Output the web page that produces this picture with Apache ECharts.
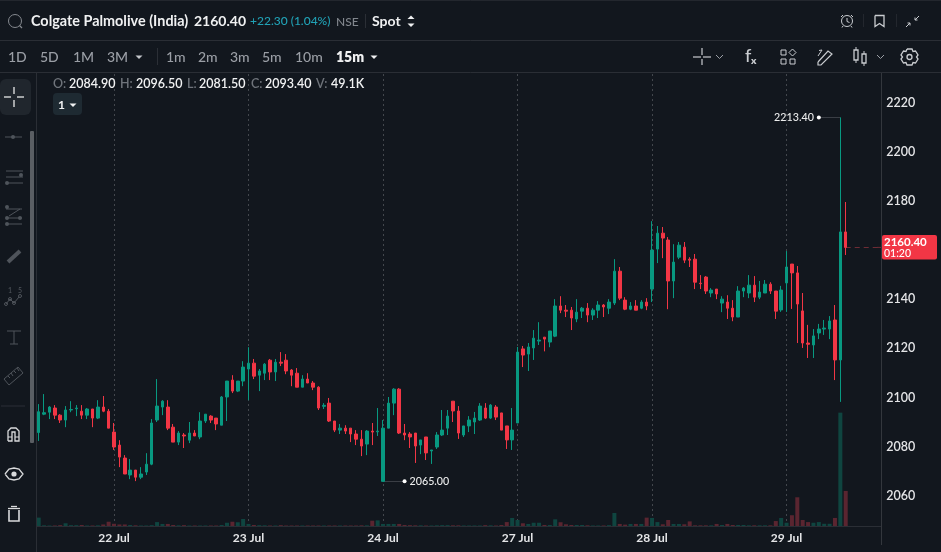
<!DOCTYPE html>
<html><head><meta charset="utf-8">
<style>html,body{margin:0;padding:0;background:#12171e;overflow:hidden}#c{width:941px;height:552px}</style>
<script src="https://cdn.jsdelivr.net/npm/echarts@6/dist/echarts.min.js"></script>
</head><body><div id="c"></div>
<script>
const opens=[2084.9,2092.4,2093.2,2094.9,2092.0,2090.0,2094.1,2094.6,2093.6,2092.0,2094.5,2090.8,2095.3,2093.6,2085.1,2079.8,2074.5,2067.6,2069.6,2066.7,2068.8,2072.0,2090.0,2095.3,2095.3,2087.1,2081.0,2083.9,2081.8,2084.7,2083.1,2089.6,2091.6,2090.8,2087.9,2099.4,2106.3,2101.8,2105.9,2110.8,2113.2,2108.3,2109.1,2114.4,2109.6,2113.6,2114.4,2110.4,2109.1,2103.4,2106.7,2105.1,2103.4,2095.6,2096.9,2089.6,2085.9,2086.7,2086.7,2084.3,2082.2,2080.2,2085.5,2085.2,2065.0,2086.7,2096.9,2102.6,2084.7,2084.3,2084.7,2079.8,2083.1,2077.4,2079.0,2083.9,2086.7,2097.7,2093.7,2083.9,2087.6,2089.2,2090.0,2094.9,2090.8,2095.3,2092.9,2087.6,2081.9,2088.8,2119.0,2116.9,2119.4,2122.2,2123.8,2121.8,2124.2,2136.5,2134.8,2134.8,2131.2,2134.4,2135.6,2132.8,2134.8,2136.9,2135.6,2137.7,2150.7,2138.9,2135.2,2136.5,2135.6,2138.1,2143.4,2159.7,2166.2,2163.4,2146.7,2156.4,2160.5,2155.6,2155.6,2145.8,2148.3,2141.8,2143.4,2137.7,2138.1,2135.6,2132.0,2142.6,2141.8,2145.0,2140.1,2141.8,2145.4,2142.6,2134.9,2145.9,2153.6,2150.0,2134.5,2121.4,2120.6,2125.5,2127.1,2127.1,2130.8,2114.5,2166.7];
const closes=[2093.4,2093.0,2095.3,2092.0,2090.0,2094.1,2094.3,2094.9,2092.0,2094.5,2090.8,2095.3,2093.6,2086.7,2079.0,2074.9,2068.0,2069.6,2066.7,2068.0,2072.0,2088.8,2095.7,2097.7,2086.7,2081.0,2084.7,2083.5,2084.7,2083.5,2089.6,2092.4,2090.0,2088.4,2099.4,2105.9,2101.8,2105.9,2111.6,2113.2,2107.9,2110.0,2112.8,2109.6,2113.6,2113.2,2110.0,2108.3,2103.4,2106.7,2105.1,2103.4,2094.9,2096.0,2089.6,2085.9,2086.7,2085.5,2084.3,2082.2,2079.4,2085.5,2085.1,2085.5,2086.7,2096.9,2102.6,2084.7,2083.9,2083.1,2079.4,2081.9,2076.6,2077.8,2083.9,2085.9,2091.6,2093.7,2084.7,2087.6,2090.0,2090.8,2095.7,2090.8,2096.1,2091.2,2085.9,2081.9,2085.9,2117.7,2116.5,2119.8,2123.4,2122.6,2123.0,2126.3,2136.5,2134.8,2134.4,2131.6,2134.0,2135.6,2132.8,2134.8,2136.9,2136.1,2138.1,2150.7,2139.7,2135.2,2136.5,2134.8,2138.1,2136.5,2159.3,2166.2,2164.2,2146.7,2154.4,2161.3,2155.2,2155.2,2146.2,2145.6,2142.6,2143.0,2141.4,2139.3,2135.6,2132.0,2142.6,2143.8,2145.0,2140.1,2142.2,2145.4,2142.6,2134.4,2143.0,2152.4,2150.0,2137.3,2121.4,2120.9,2124.3,2127.1,2127.5,2130.4,2114.5,2166.7,2160.4];
const lows=[2081.5,2092.0,2090.4,2090.4,2088.8,2087.1,2093.2,2091.6,2090.4,2090.4,2087.1,2090.4,2093.2,2086.7,2077.8,2070.8,2068.0,2065.9,2065.1,2065.9,2067.6,2071.6,2089.2,2092.0,2085.9,2081.0,2079.8,2078.6,2080.6,2083.5,2082.2,2088.8,2088.8,2085.9,2087.9,2089.6,2101.0,2101.4,2103.8,2098.1,2106.7,2101.8,2106.3,2106.3,2105.9,2112.0,2108.7,2103.8,2103.4,2103.4,2105.1,2102.2,2094.1,2094.5,2089.2,2085.1,2084.3,2084.3,2081.0,2079.8,2075.3,2075.7,2079.8,2083.5,2065.0,2086.7,2092.0,2084.3,2081.8,2078.6,2072.5,2076.1,2073.7,2072.1,2078.2,2083.5,2083.9,2089.2,2082.3,2083.1,2085.1,2084.3,2089.6,2090.4,2090.4,2090.0,2085.9,2078.2,2077.8,2088.8,2111.6,2110.0,2114.5,2120.6,2118.0,2119.7,2123.8,2133.6,2132.0,2126.7,2129.9,2131.6,2129.9,2130.8,2131.6,2132.0,2133.2,2136.9,2138.9,2134.8,2134.8,2134.8,2135.2,2134.8,2138.1,2154.0,2156.0,2135.2,2139.7,2155.6,2154.0,2152.4,2143.4,2143.4,2141.4,2140.1,2139.3,2134.0,2131.2,2130.3,2132.0,2140.1,2139.7,2138.1,2139.3,2141.8,2141.4,2131.2,2134.1,2134.1,2135.3,2121.4,2119.4,2115.3,2115.3,2123.0,2124.7,2123.0,2106.3,2097.4,2157.3];
const highs=[2096.5,2100.6,2095.7,2096.1,2092.4,2095.7,2097.7,2096.1,2096.1,2094.9,2094.5,2098.1,2099.8,2094.5,2088.8,2081.8,2075.7,2074.1,2069.6,2070.8,2076.5,2090.4,2106.7,2098.1,2098.1,2088.4,2085.5,2084.7,2089.2,2085.9,2093.2,2092.4,2092.0,2090.8,2099.8,2105.9,2108.3,2105.9,2114.0,2119.7,2114.9,2110.8,2113.2,2114.9,2114.9,2117.7,2116.9,2110.8,2111.2,2108.3,2109.1,2105.9,2103.8,2096.9,2099.0,2089.6,2088.4,2087.9,2086.7,2085.9,2085.9,2085.9,2088.8,2094.9,2090.0,2099.4,2103.0,2103.0,2088.4,2085.1,2084.7,2081.9,2083.1,2077.8,2085.1,2094.1,2094.1,2097.7,2095.7,2087.6,2091.6,2093.3,2096.9,2096.9,2096.5,2096.1,2092.9,2087.6,2094.9,2119.8,2120.2,2121.4,2126.7,2129.9,2123.8,2126.3,2139.3,2140.5,2136.9,2136.1,2139.3,2136.1,2137.7,2135.6,2138.5,2137.3,2139.3,2155.6,2152.4,2140.1,2138.1,2138.9,2138.9,2139.7,2171.1,2169.1,2168.7,2164.6,2161.7,2162.6,2162.6,2156.4,2157.7,2149.1,2148.7,2143.8,2143.4,2140.5,2140.9,2138.9,2144.6,2144.2,2149.1,2148.7,2146.7,2147.1,2146.2,2142.6,2144.7,2158.9,2153.6,2152.8,2141.8,2128.8,2127.1,2129.2,2130.8,2132.4,2136.9,2213.4,2178.9];
const volumes=[49.1,4,3,3,5,16,5,5,6,3,3,4,9,25,13,9,9,6,4,3,3,5,23,12,12,6,4,5,3,3,3,3,3,3,6,19,25,22,41,12,6,5,4,3,3,5,3,3,3,3,3,3,3,3,3,3,3,3,3,3,4,4,31,33,12,12,12,12,6,5,4,4,3,3,4,5,5,4,4,3,3,3,3,5,4,3,6,23,47,35,16,12,19,19,6,6,39,22,10,6,6,6,4,3,3,3,5,76,12,8,12,12,12,49,47,23,10,35,12,12,10,27,4,4,4,4,12,6,12,6,6,6,4,4,4,4,4,29,47,19,63,168,35,23,19,23,13,13,47,663,205];
const dayLabels=['22 Jul','23 Jul','24 Jul','27 Jul','28 Jul','29 Jul'];
const dayIndexes=[14,39,64,89,114,139];
const priceTicks=[2060,2080,2100,2120,2140,2180,2200,2220];
const lastPrice=2160.40, highMark=2213.40, lowMark=2065.00;
const EMPTY_BARS=6;

const UP='#089981',DOWN='#f23645',UPV='#0f4540',DOWNV='#5a2530';
const FONT='Lato';
const categories=[];
for(let i=0;i<opens.length+EMPTY_BARS;i++){const k=dayIndexes.indexOf(i);categories.push(k>=0?dayLabels[k]:'');}
const candles=opens.map((o,i)=>[o,closes[i],lows[i],highs[i]]);
const vols=volumes.map((v,i)=>({value:v,itemStyle:{color:closes[i]>=opens[i]?UPV:DOWNV}}));

const g=[];
const LINE='#2a2e35',ICON='#c9ccd0',DIM='#5b6067',TXT='#f0f1f2',GR='#9a9ea5',LG='#6f747b';
const silent={silent:true,z:50};
function L(x1,y1,x2,y2,c,w){g.push({type:'line',...silent,shape:{x1,y1,x2,y2},style:{stroke:c||ICON,lineWidth:w||1}});}
function C(cx,cy,r,c,fill,w){g.push({type:'circle',...silent,shape:{cx,cy,r},style:{stroke:fill?null:(c||ICON),fill:fill?c:null,lineWidth:w||1}});}
function R(x,y,w,h,c,r,stroke,lw){g.push({type:'rect',...silent,shape:{x,y,width:w,height:h,r:r||0},style:stroke?{stroke:c,fill:null,lineWidth:lw||1}:{fill:c}});}
function P(pts,c,w){g.push({type:'polyline',...silent,shape:{points:pts},style:{stroke:c||ICON,fill:null,lineWidth:w||1}});}
function F(pts,c){g.push({type:'polygon',...silent,shape:{points:pts},style:{fill:c||ICON}});}
function T(x,y,s,size,c,weight,align){g.push({type:'text',...silent,x,y,style:{text:s,font:(weight||500)+' '+size+'px '+FONT,fill:c||TXT,verticalAlign:'middle',align:align||'left'}});}
function caret(x,y,c){F([[x-3.5,y-1.5],[x+3.5,y-1.5],[x,y+2]],c||TXT);}

// panels
R(0,0,941,73,'#12171e');
R(0,526,36,26,'#12171e');
L(0,0.5,941,0.5,'#23272e');
L(0,40.5,941,40.5,LINE);
L(0,72.5,941,72.5,LINE);
L(36.5,73,36.5,552,LINE);
L(881.5,73,881.5,545,'#33373d');

// header
C(15,21,6.5,'#85898f');L(19.5,25.5,22,28,'#85898f',1.2);
T(31,21,'Colgate Palmolive (India)',14.4,TXT,700);
T(194,21,'2160.40',14,TXT,700);
T(250,21.5,'+22.30 (1.04%)',12,'#21a1b5',500);
T(336,22,'NSE',12,'#81868d',500);
L(365.5,14,365.5,28,'#2b2f36');
T(372,21,'Spot',14,TXT,700);
F([[411,15.5],[414.5,19],[407.5,19]],TXT);F([[411,27],[414.5,23.5],[407.5,23.5]],TXT);
// alarm
C(847,21,5.5,ICON);L(847,18,847,21.5,ICON);L(847,21.5,849.5,22.5,ICON);L(841,17,843,15,ICON);L(851,15,853,17,ICON);L(843,26,842,27.5,ICON);L(851,26,852,27.5,ICON);
L(863.5,14,863.5,27,'#23272e');
P([[875,15.5],[884,15.5],[884,26.5],[879.5,23.5],[875,26.5],[875,15.5]],ICON,1.3);
L(896.5,14,896.5,27,'#23272e');
L(915,20,919,16,ICON);P([[915,17.5],[915,20],[917.5,20]],ICON);L(906,27,910,23,ICON);P([[907.5,23],[910,23],[910,25.5]],ICON);

// period row
[['1D',8],['5D',40],['1M',73],['3M',107]].forEach(a=>T(a[1],57.5,a[0],14,GR,500));
caret(139,57,'#c4c7cb');
L(157.5,48,157.5,65,'#2b2f36');
[['1m',166],['2m',198],['3m',230],['5m',262],['10m',295]].forEach(a=>T(a[1],57.5,a[0],14,GR,500));
T(336,57.5,'15m',14,TXT,800);caret(374,57,TXT);

// right toolbar
L(693,57,701,57,ICON,1.2);L(703,57,711,57,ICON,1.2);L(702,48,702,55,ICON,1.2);L(702,59,702,65,ICON,1.2);
P([[716,55],[719.5,58.5],[723,55]],'#9a9ea5');
T(745,56,'f',18,ICON,500);T(751,60.5,'x',10,ICON,800);
R(781,50,5,5,ICON,0,true);R(781,59,5,5,ICON,0,true);R(790,59,5,5,ICON,0,true);
P([[792.5,49],[796,52.5],[792.5,56],[789,52.5],[792.5,49]],ICON);
P([[818,62],[828,51],[832,54],[821,65],[818,65],[818,62]],ICON,1.2);P([[818,56],[822,50],[819,50.5]],ICON);
L(856,47,856,50,ICON);L(856,60,856,63,ICON);R(854,50,4,10,ICON,0,true,1.3);L(864,51,864,54,ICON);L(864,63,864,66,ICON);R(862,54,4,9,ICON,0,true,1.3);
P([[877,55],[880.5,58.5],[884,55]],'#9a9ea5');
C(909.5,57,2.5,ICON,false,1.3);
P([[907,49],[912,49],[913,51.5],[915.5,51],[918,55],[916.5,57],[918,59],[915.5,63],[913,62.5],[912,65],[907,65],[906,62.5],[903.5,63],[901,59],[902.5,57],[901,55],[903.5,51],[906,51.5],[907,49]],ICON,1.3);

// left toolbar
R(0,79,31,36,'#20262d',6);
L(4,97,11,97,'#e8e9ea',1.3);L(17,97,24,97,'#e8e9ea',1.3);L(14,87,14,94,'#e8e9ea',1.3);L(14,100,14,107,'#e8e9ea',1.3);
R(30,131,4,312,'#5a5e63',1);
const tool='#4f545b';
L(5,137,22,137,tool);C(13,137,2,tool,true);
L(6,171,23,171,tool);L(6,177,23,177,tool);L(6,183,23,183,tool);C(21,175,2,tool,true);C(7,183,2,tool,true);
L(6,209,22,209,tool);L(6,218,22,218,tool);L(6,224,22,224,tool);C(7,207,2,tool,true);C(7,218,2,tool,true);C(7,224,2,tool,true);C(20,218,2,tool,true);L(9,216,20,209,tool);
g.push({type:'line',...silent,shape:{x1:8,y1:262,x2:20,y2:251},style:{stroke:tool,lineWidth:4}});
P([[6,304],[10,299],[14,303],[19,297]],tool);C(6,304,1.5,tool);C(10,299,1.5,tool);C(14,303,1.5,tool);C(20,296,1.5,tool);
T(10,291,'1',7,tool,500,'center');T(20,291,'5',7,tool,500,'center');
L(7,331,21,331,tool);L(14,331,14,344,tool);L(10,344,18,344,tool);
P([[4,379],[18,367],[23,373],[9,385],[4,379]],tool);L(8,376,10,378,tool);L(11,373,13,376,tool);L(14,371,16,373,tool);L(17,368,19,371,tool);
L(1,406,25,406,'#2b2f36');
P([[8,441],[8,431],[11,428],[16,428],[19,431],[19,441],[15,441],[15,432],[12,432],[12,441],[8,441]],'#d9dadc',1.3);L(8,437,12,437,'#d9dadc');L(15,437,19,437,'#d9dadc');
P([[5,474],[9,469],[14,468],[19,469],[23,474],[19,479],[14,480],[9,479],[5,474]],'#d9dadc',1.3);C(14,474,2.6,'#d9dadc',true);
L(8,508.5,20,508.5,'#d9dadc',1.3);L(11,506.5,17,506.5,'#d9dadc',1.3);P([[9,510],[9,521],[19,521],[19,510]],'#d9dadc',1.6);

// OHLC legend
[['O:',53,LG],['2084.90',69,TXT],['H:',120,LG],['2096.50',136,TXT],['L:',187,LG],['2081.50',199,TXT],['C:',251,LG],['2093.40',265,TXT],['V:',316,LG],['49.1K',331,TXT]]
  .forEach(a=>T(a[1],84,a[0],12.5,a[2],600));
R(53,93,29,22,'#1e2a32',4);T(58,105,'1',12,TXT,700);caret(73,105,TXT);

const chart=echarts.init(document.getElementById('c'),null,{renderer:'canvas'});
chart.setOption({
  animation:false,backgroundColor:'#12171e',
  grid:{left:36,top:73,width:844.7,height:453,containLabel:false},
  xAxis:{type:'category',data:categories,boundaryGap:true,
    axisLine:{show:true,lineStyle:{color:'#2a2e35'}},axisTick:{show:false},splitLine:{show:false},
    axisLabel:{interval:(i,v)=>v!=='',color:'#e4e5e7',fontFamily:FONT,fontSize:12,fontWeight:700,margin:6,hideOverlap:false}},
  yAxis:[{type:'value',position:'right',min:2046.8,max:2231.5,scale:true,
      axisLine:{show:false},axisTick:{show:false},splitLine:{show:false},
      axisLabel:{customValues:priceTicks,margin:5.5,formatter:v=>'{p|'+v+'}',
        rich:{p:{color:'#e4e5e7',fontFamily:FONT,fontSize:12.5,fontWeight:600,padding:[4,0,0,0]}}}},
    {type:'value',min:0,max:2650,show:false}],
  series:[
    {type:'bar',name:'Volume',xAxisIndex:0,yAxisIndex:1,data:vols,barWidth:4,z:1,silent:true,
      markLine:{silent:true,z:0,symbol:'none',animation:false,label:{show:false},lineStyle:{color:'#43474d',type:[2,3],width:1},data:dayIndexes.map(i=>({xAxis:i}))}},
    {type:'candlestick',name:'Price',data:candles,barWidth:3,z:3,silent:true,
      itemStyle:{color:UP,color0:DOWN,borderColor:UP,borderColor0:DOWN,borderWidth:1},
      markLine:{silent:true,z:2,symbol:'none',animation:false,label:{show:false},
        data:[
          [{coord:[145,highMark],lineStyle:{color:'#3a3e45',width:1,type:'solid'}},{coord:[149,highMark]}],
          [{coord:[64,lowMark],lineStyle:{color:'#3a3e45',width:1,type:'solid'}},{coord:[68,lowMark]}],
          [{coord:[150,lastPrice],lineStyle:{color:'#6e2c35',width:1,type:[5,4]}},{coord:[156,lastPrice]}]
        ]},
      markPoint:{silent:true,animation:false,symbol:'circle',symbolSize:4,itemStyle:{color:'#ffffff'},
        label:{fontFamily:FONT,fontSize:10.7,fontWeight:500,color:'#eceded'},
        data:[
          {coord:[145,highMark],value:'2213.40',label:{position:'left',distance:3,formatter:'2213.40'}},
          {coord:[68,lowMark],value:'2065.00',label:{position:'right',distance:3,formatter:'2065.00'}}
        ]}}
  ],
  graphic:{elements:g}
});
const tagY=chart.convertToPixel({yAxisIndex:0},lastPrice);
L(877,tagY,881,tagY,'#6e2c35');
g.push({type:'rect',silent:true,z:60,shape:{x:882,y:tagY-12.5,width:55,height:24.5,r:2},style:{fill:DOWN}});
g.push({type:'text',silent:true,z:61,x:884,y:tagY-5,style:{text:lastPrice.toFixed(2),font:'700 11.5px '+FONT,fill:'#ffffff',verticalAlign:'middle'}});
g.push({type:'text',silent:true,z:61,x:884,y:tagY+6.5,style:{text:'01:20',font:'500 10.5px '+FONT,fill:'#ffffff',verticalAlign:'middle'}});
chart.setOption({graphic:{elements:g}},{replaceMerge:['graphic']});
</script></body></html>
